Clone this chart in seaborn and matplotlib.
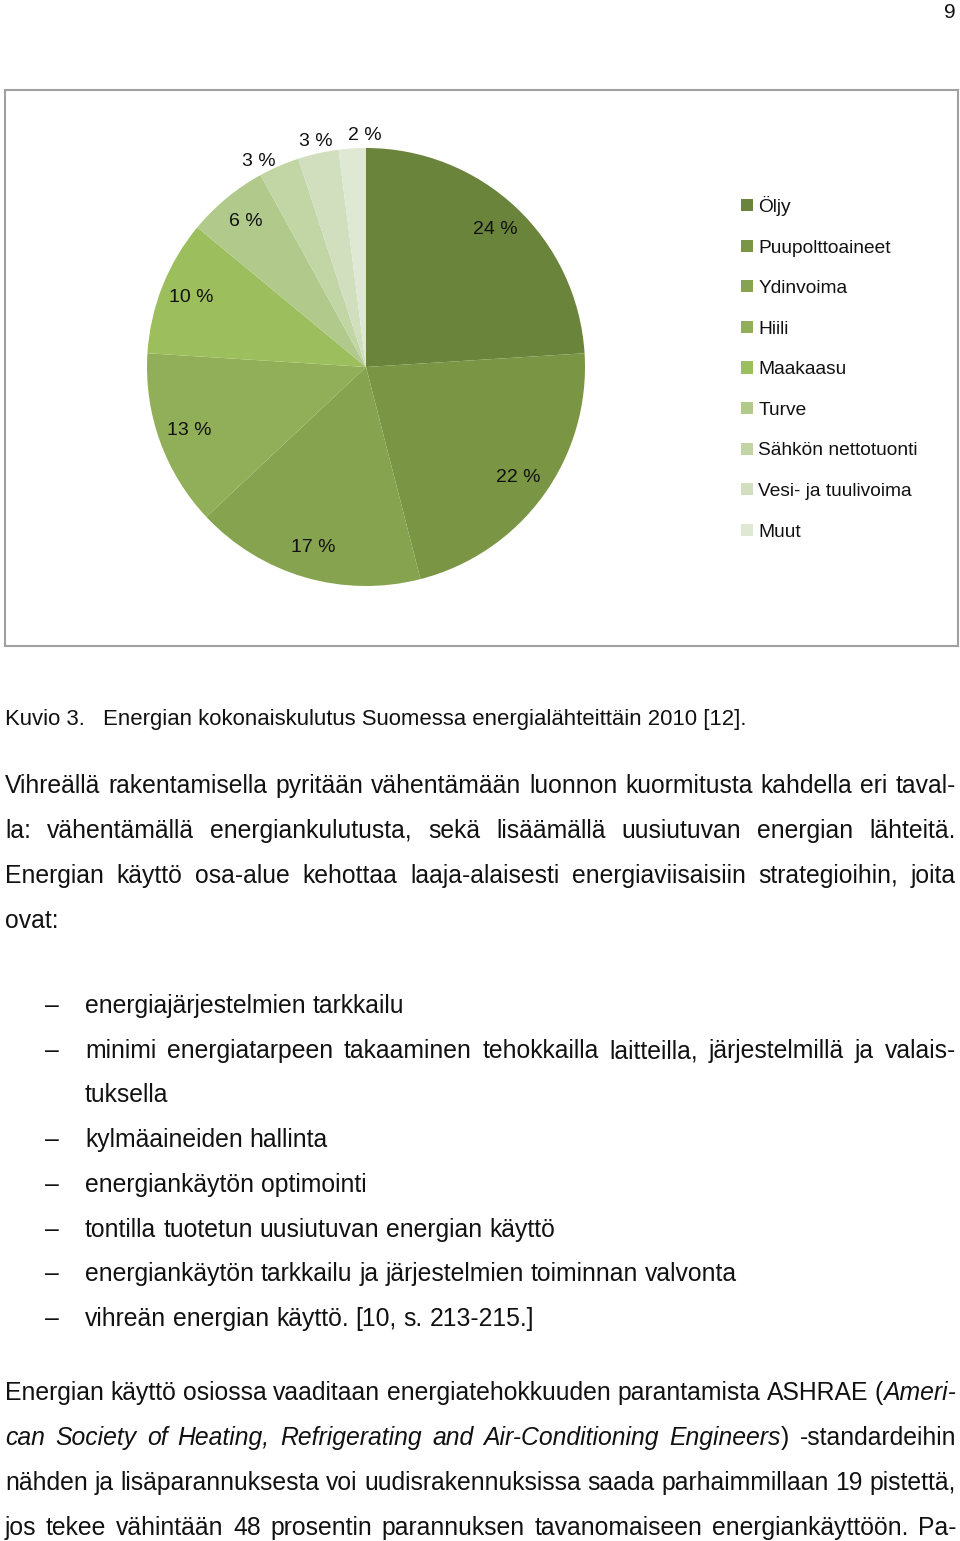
import matplotlib
matplotlib.use("Agg")
import matplotlib.pyplot as plt
import seaborn as sns
import numpy as np
from matplotlib import font_manager as fm
from matplotlib.patches import Rectangle

# ---------------- data ----------------
categories = ["Öljy", "Puupolttoaineet", "Ydinvoima", "Hiili", "Maakaasu",
              "Turve", "Sähkön nettotuonti", "Vesi- ja tuulivoima", "Muut"]
shares = [24, 22, 17, 13, 10, 6, 3, 3, 2]
colors = ["#6b843c", "#7a9544", "#86a34f", "#90af58", "#9dbe5c",
          "#b1ca8b", "#c2d5a5", "#d1dfbf", "#dfe8d3"]

page_number = "9"
caption_label = "Kuvio 3."
caption_text = "Energian kokonaiskulutus Suomessa energialähteittäin 2010 [12]."
para1 = ["Vihreällä rakentamisella pyritään vähentämään luonnon kuormitusta kahdella eri taval-",
         "la: vähentämällä energiankulutusta, sekä lisäämällä uusiutuvan energian lähteitä.",
         "Energian käyttö osa-alue kehottaa laaja-alaisesti energiaviisaisiin strategioihin, joita",
         "ovat:"]
bullets = [("–", "energiajärjestelmien tarkkailu", False),
           ("–", "minimi energiatarpeen takaaminen tehokkailla laitteilla, järjestelmillä ja valais-", True),
           ("", "tuksella", False),
           ("–", "kylmäaineiden hallinta", False),
           ("–", "energiankäytön optimointi", False),
           ("–", "tontilla tuotetun uusiutuvan energian käyttö", False),
           ("–", "energiankäytön tarkkailu ja järjestelmien toiminnan valvonta", False),
           ("–", "vihreän energian käyttö. [10, s. 213-215.]", False)]
para2 = ["Energian käyttö osiossa vaaditaan energiatehokkuuden parantamista ASHRAE (*Ameri-*",
         "*can Society of Heating, Refrigerating and Air-Conditioning Engineers*) -standardeihin",
         "nähden ja lisäparannuksesta voi uudisrakennuksissa saada parhaimmillaan 19 pistettä,",
         "jos tekee vähintään 48 prosentin parannuksen tavanomaiseen energiankäyttöön. Pa-"]

# ---------------- setup ----------------
sns.set_theme(style="white")
names = {f.name for f in fm.fontManager.ttflist}
body_family = "Liberation Sans Narrow" if "Liberation Sans Narrow" in names else "Liberation Sans"
plt.rcParams['font.family'] = ['Liberation Sans', 'DejaVu Sans']

W, H = 960, 1541
fig = plt.figure(figsize=(9.6, 15.41), dpi=100)
fig.patch.set_facecolor("white")


def fx(x):
    return x / W


def fy(y):
    return 1 - y / H


TXT = "#111111"

# chart frame
fig.patches.append(Rectangle((fx(5), fy(646)), fx(958) - fx(5), fy(90) - fy(646),
                             transform=fig.transFigure, fill=False,
                             edgecolor="#a0a0a0", linewidth=1.5))

# ---------------- pie ----------------
cx, cy, r = 366, 367, 219
ax = fig.add_axes([fx(cx - r), fy(cy + r), 2 * r / W, 2 * r / H])
wedges, texts, autotexts = ax.pie(
    shares, colors=colors, startangle=90, counterclock=False, radius=1,
    autopct=lambda p: f"{p:.0f} %", pctdistance=0.86,
    wedgeprops=dict(linewidth=0),
    textprops=dict(fontsize=14, color=TXT))
# small slices: labels outside, fanned out slightly so they do not collide
small = [(w, t) for w, t, v in zip(wedges, autotexts, shares) if v <= 3]
mids = [np.deg2rad((w.theta1 + w.theta2) / 2) for w, _ in small]
centre = np.mean(mids)
for (w, t), m in zip(small, mids):
    ang = centre + (m - centre) * 1.35
    t.set_position((1.075 * np.cos(ang), 1.075 * np.sin(ang) - 0.02))
ax.set_xlim(-1, 1)
ax.set_ylim(-1, 1)
ax.axis("off")

fig.legend(wedges, categories, loc="upper left",
           bbox_to_anchor=(fx(741), fy(196)), frameon=False, fontsize=13.8,
           handlelength=0.6, handleheight=0.6, handletextpad=0.3,
           labelspacing=1.23, borderpad=0, borderaxespad=0,
           labelcolor=TXT)

# ---------------- page text ----------------
renderer = fig.canvas.get_renderer()


def tw(s, fp):
    w, h, d = renderer.get_text_width_height_descent(s, fp, ismath=False)
    return w


probe = fm.FontProperties(family=body_family, size=10)
S = 10 * (742 - 85) / tw(bullets[6][1], probe)
SC = 10 * (748 - 103) / tw(caption_text, probe)
fp_r = fm.FontProperties(family=body_family, size=S)
fp_i = fm.FontProperties(family=body_family, size=S, style="italic")
fp_c = fm.FontProperties(family=body_family, size=SC)


def put(x, y, s, fp, **kw):
    fig.text(fx(x), fy(y), s, fontproperties=fp, color=TXT, va="baseline",
             ha="left", **kw)


def parse_words(line, italic):
    words = []
    for raw in line.split(" "):
        segs = []
        cur = ""
        for ch in raw:
            if ch == "*":
                if cur:
                    segs.append((cur, italic))
                cur = ""
                italic = not italic
            else:
                cur += ch
        if cur:
            segs.append((cur, italic))
        words.append(segs)
    return words, italic


def draw_line(line, x0, x1, y, justify, italic=False):
    words, italic_out = parse_words(line, italic)
    widths = [sum(tw(s, fp_i if it else fp_r) for s, it in wd) for wd in words]
    space = tw("a a", fp_r) - 2 * tw("a", fp_r)
    if justify and len(words) > 1:
        gap = (x1 - x0 - sum(widths)) / (len(words) - 1)
    else:
        gap = space
    x = x0
    for wd, wv in zip(words, widths):
        xx = x
        for s, it in wd:
            put(xx, y, s, fp_i if it else fp_r)
            xx += tw(s, fp_i if it else fp_r)
        x += wv + gap
    return italic_out


BOFF = 9
# page number
fig.text(fx(956), fy(18), page_number, fontsize=15, color=TXT, ha="right",
         va="baseline", family=["Liberation Sans", "DejaVu Sans"])

# caption
put(5, 716 + BOFF, caption_label, fp_c)
put(103, 716 + BOFF, caption_text, fp_c)

# paragraph 1
for i, (line, y) in enumerate(zip(para1, [784, 829, 874, 919])):
    draw_line(line, 5, 956, y + BOFF, justify=i < 3)

# bullets
bul_y = [1004, 1049, 1093, 1138, 1183, 1228, 1272, 1317]
for (dash, line, just), y in zip(bullets, bul_y):
    if dash:
        put(45, y + BOFF, dash, fp_r)
    draw_line(line, 85, 956, y + BOFF, justify=just)

# paragraph 2
it = False
for line, y in zip(para2, [1391, 1436, 1481, 1526]):
    it = draw_line(line, 5, 956, y + BOFF, justify=True, italic=it)

fig.savefig("out.png", dpi=100, facecolor="white")
